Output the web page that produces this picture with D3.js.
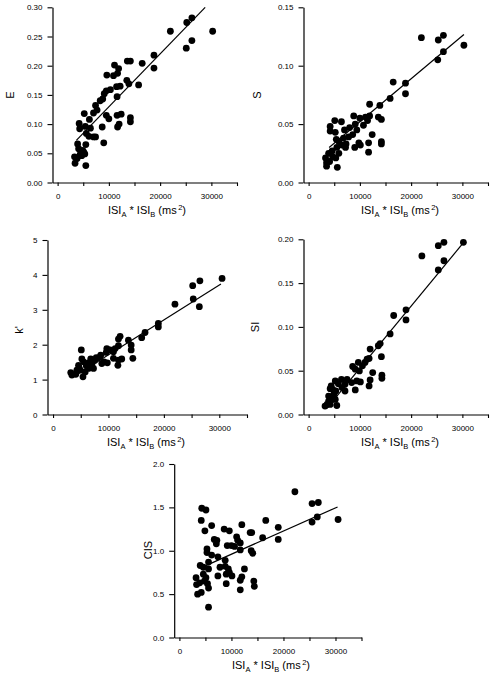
<!DOCTYPE html>
<html><head><meta charset="utf-8">
<script src="https://cdn.jsdelivr.net/npm/d3@7"></script>
<style>
body{margin:0;background:#fff}
svg{display:block}
text{font-family:"Liberation Sans",Arial,Helvetica,sans-serif;fill:#000}
</style>
</head><body>
<svg id="chart" width="491" height="675"></svg>
<script>
// ---------- data ----------
const xMajorTicks = [0, 10000, 20000, 30000];
const xMinorTicks = [5000, 15000, 25000, 35000];
const eTicks  = [0, 0.05, 0.10, 0.15, 0.20, 0.25, 0.30];
const sTicks  = [0, 0.05, 0.10, 0.15];
const kTicks  = [0, 1, 2, 3, 4, 5];
const siTicks = [0, 0.05, 0.10, 0.15, 0.20];
const cisTicks = [0, 0.5, 1.0, 1.5, 2.0];

const ePoints = [[30250,0.259],[26200,0.282],[25200,0.274],[22000,0.259],[26200,0.243],[25100,0.230],[18800,0.218],[18800,0.196],[16500,0.204],[13600,0.208],[14200,0.208],[11100,0.201],[11900,0.195],[11700,0.187],[10900,0.183],[9600,0.184],[13500,0.175],[13900,0.169],[15800,0.167],[12200,0.165],[11500,0.164],[11600,0.147],[10300,0.159],[9500,0.157],[9100,0.152],[8800,0.143],[8300,0.140],[7400,0.132],[7700,0.124],[7000,0.119],[5200,0.118],[9500,0.115],[10000,0.109],[11600,0.115],[12400,0.117],[14200,0.111],[14200,0.104],[11700,0.095],[12000,0.100],[8700,0.095],[6200,0.108],[4200,0.101],[4300,0.092],[5400,0.096],[6400,0.093],[5600,0.084],[6100,0.079],[7000,0.078],[7400,0.078],[9000,0.068],[3900,0.066],[5500,0.065],[4100,0.058],[4900,0.055],[5300,0.049],[4400,0.048],[3300,0.044],[3800,0.041],[3400,0.033],[5500,0.029],[4700,0.046],[5100,0.052]];
const eFit = [[3650,0.072],[28790,0.300]];

const sPoints = [[30300,0.1175],[26300,0.126],[25300,0.122],[22000,0.124],[26300,0.112],[25200,0.105],[18900,0.085],[18900,0.076],[16500,0.086],[15900,0.072],[13900,0.066],[11900,0.067],[14200,0.054],[13600,0.056],[14200,0.035],[14200,0.033],[12400,0.041],[11700,0.034],[11700,0.026],[11900,0.057],[11100,0.056],[11500,0.053],[10700,0.049],[10000,0.055],[8800,0.057],[9100,0.050],[9400,0.045],[8600,0.041],[9800,0.034],[10100,0.032],[9000,0.030],[7300,0.033],[7200,0.030],[6800,0.038],[7000,0.045],[6400,0.052],[5200,0.043],[5100,0.053],[4200,0.048],[4200,0.044],[5400,0.037],[5900,0.035],[6500,0.032],[5500,0.030],[4600,0.027],[3900,0.025],[4700,0.022],[5300,0.021],[3300,0.021],[3500,0.017],[3500,0.014],[4100,0.018],[5600,0.013],[5900,0.025],[7800,0.039],[8000,0.047]];
const sFit = [[4000,0.030],[30300,0.1267]];

const kPoints = [[30500,3.90],[26500,3.83],[25200,3.69],[25300,3.31],[26400,3.09],[22000,3.16],[19000,2.61],[19000,2.51],[16600,2.35],[16000,2.20],[13600,2.13],[14100,1.99],[14100,1.85],[14400,1.61],[12100,2.24],[11800,2.16],[11800,1.97],[11200,1.89],[10900,1.80],[10300,1.85],[9700,1.89],[9600,1.78],[8600,1.70],[8300,1.63],[7800,1.63],[7500,1.55],[8800,1.46],[9200,1.51],[9800,1.48],[10900,1.61],[11800,1.56],[12400,1.59],[11700,1.41],[5100,1.85],[5200,1.59],[5500,1.51],[6400,1.48],[7000,1.43],[7300,1.32],[6400,1.32],[6000,1.40],[4600,1.41],[4300,1.27],[4900,1.27],[5800,1.22],[4100,1.15],[3200,1.20],[3400,1.13],[5400,1.08],[4700,1.34],[6800,1.59]];
const kFit = [[3500,1.06],[30300,3.74]];

const siPoints = [[30200,0.1966],[26400,0.1966],[25300,0.1927],[22100,0.181],[26400,0.1755],[25300,0.165],[19000,0.1195],[19000,0.108],[16600,0.113],[15900,0.092],[13960,0.081],[13600,0.0785],[12000,0.0747],[14200,0.066],[14300,0.0448],[14300,0.0414],[12500,0.0479],[12000,0.0395],[11800,0.0326],[11800,0.064],[11400,0.0632],[11000,0.0594],[10500,0.0556],[9700,0.0594],[9100,0.0517],[8600,0.0548],[9900,0.0498],[10100,0.0372],[9400,0.0383],[9100,0.028],[8400,0.0364],[7500,0.040],[7100,0.0345],[7100,0.0268],[6400,0.040],[6500,0.0307],[5800,0.0352],[5200,0.0383],[4400,0.0326],[4700,0.0287],[4200,0.0295],[4900,0.023],[5200,0.0172],[4600,0.0172],[3900,0.0153],[3600,0.0115],[3200,0.0096],[4200,0.0115],[5500,0.0103],[3900,0.021],[5300,0.0268]];
const siFit = [[3500,0.0066],[30330,0.197]];

const cisPoints = [[30500,1.36],[26700,1.556],[25500,1.544],[26500,1.39],[25500,1.33],[22200,1.68],[19000,1.27],[19000,1.13],[16600,1.35],[16000,1.15],[13900,1.21],[13600,1.21],[14100,0.97],[13800,1.00],[14300,0.65],[14400,0.59],[12000,1.30],[12500,0.79],[12000,0.70],[11700,0.66],[11700,0.55],[11700,1.01],[11700,1.09],[11000,1.16],[11200,1.12],[10600,1.05],[10000,1.06],[9200,1.06],[9600,1.23],[8600,1.25],[8800,0.89],[8800,0.82],[9400,0.79],[9600,0.75],[9000,0.73],[10100,0.71],[9000,0.62],[7800,0.81],[7400,0.71],[7400,0.93],[7200,1.12],[6700,1.13],[7100,1.08],[6200,1.29],[6200,0.95],[5600,0.87],[5600,0.79],[5300,1.02],[5300,0.98],[5100,1.47],[4300,1.49],[4200,1.35],[4900,1.23],[4000,0.83],[4600,0.81],[5100,0.69],[5400,0.62],[5600,0.57],[4800,0.65],[3900,0.63],[3200,0.69],[3300,0.61],[3500,0.50],[4200,0.52],[5600,0.35],[4600,0.73]];
const cisFit = [[4000,0.80],[30400,1.505]];

// ---------- layout ----------
const panels = [
  {pts: ePoints,  fit: eFit,  ticks: eTicks,  fmt: ".2f", label: "E",   x0: 52.5,  x1: 237,   yb: 182.5, yt: 7.3,   lx: 14,  ly: 95,  tx: 147},
  {pts: sPoints,  fit: sFit,  ticks: sTicks,  fmt: ".2f", label: "S",   x0: 303.5, x1: 488,   yb: 182.5, yt: 7.3,   lx: 261, ly: 95,  tx: 400},
  {pts: kPoints,  fit: kFit,  ticks: kTicks,  fmt: "d",   label: "k'",  x0: 47.5,  x1: 247,   yb: 414.5, yt: 240,   lx: 23,  ly: 330, tx: 146},
  {pts: siPoints, fit: siFit, ticks: siTicks, fmt: ".2f", label: "SI",  x0: 303.5, x1: 488,   yb: 414.5, yt: 239.3, lx: 259, ly: 327, tx: 400},
  {pts: cisPoints,fit: cisFit,ticks: cisTicks,fmt: ".1f", label: "CIS", x0: 174.2, x1: 361.5, yb: 637.5, yt: 464,   lx: 152, ly: 550, tx: 271}
];

const svg = d3.select("#chart");

panels.forEach(p => {
  const x = d3.scaleLinear().domain([-1000, 35000]).range([p.x0, p.x1]);
  const yMax = p.ticks[p.ticks.length - 1];
  const y = d3.scaleLinear().domain([0, yMax]).range([p.yb, p.yt]);
  const g = svg.append("g");

  g.append("g").attr("transform", `translate(0,${p.yb})`)
    .call(d3.axisBottom(x).tickValues(xMajorTicks).tickFormat(d3.format("d"))
      .tickSize(3.5).tickPadding(7).tickSizeOuter(0));
  g.append("g").attr("transform", `translate(0,${p.yb})`)
    .call(d3.axisBottom(x).tickValues(xMinorTicks).tickFormat("")
      .tickSize(3.5).tickSizeOuter(0))
    .select(".domain").remove();
  g.append("g").attr("transform", `translate(${p.x0},0)`)
    .call(d3.axisLeft(y).tickValues(p.ticks).tickFormat(d3.format(p.fmt))
      .tickSize(5).tickPadding(5).tickSizeOuter(0));

  g.selectAll(".domain").attr("stroke", "#000").attr("stroke-width", 1.2);
  g.selectAll(".tick line").attr("stroke", "#000").attr("stroke-width", 1.1);
  g.selectAll(".tick text").attr("font-size", "8px")
    .attr("font-family", '"Liberation Sans",Arial,sans-serif').attr("fill", "#000");

  g.append("line")
    .attr("x1", x(p.fit[0][0])).attr("y1", y(p.fit[0][1]))
    .attr("x2", x(p.fit[1][0])).attr("y2", y(p.fit[1][1]))
    .attr("stroke", "#000").attr("stroke-width", 1.2);

  g.selectAll("circle.pt").data(p.pts).enter().append("circle")
    .attr("class", "pt")
    .attr("cx", d => x(d[0])).attr("cy", d => y(d[1]))
    .attr("r", 3.4).attr("fill", "#000");

  g.append("text")
    .attr("transform", `translate(${p.lx},${p.ly}) rotate(-90)`)
    .attr("text-anchor", "middle").attr("font-size", "11px")
    .text(p.label);

  const t = g.append("text")
    .attr("x", p.tx).attr("y", p.yb + 31.5)
    .attr("text-anchor", "middle").attr("font-size", "11px");
  t.append("tspan").text("ISI");
  t.append("tspan").attr("font-size", "7.5px").attr("dy", 3).text("A");
  t.append("tspan").attr("dy", -3).text("  * ISI");
  t.append("tspan").attr("font-size", "7.5px").attr("dy", 3).text("B");
  t.append("tspan").attr("dy", -3).text(" (ms");
  t.append("tspan").attr("font-size", "7.5px").attr("dy", -4).attr("dx", 1.5).text("2");
  t.append("tspan").attr("dy", 4).text(")");
});
</script>
</body></html>
